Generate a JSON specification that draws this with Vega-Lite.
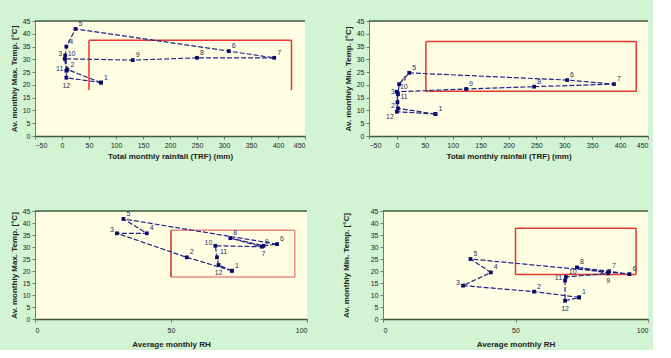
{
  "$schema": "https://vega.github.io/schema/vega-lite/v6.json",
  "background": "#d3f4d3",
  "padding": {"left": 10, "top": 17, "right": 4, "bottom": 2},
  "config": {
    "view": {"fill": "#fffde2", "stroke": null},
    "font": "Liberation Sans",
    "axis": {"labelFontSize": 7, "titleFontSize": 8, "titleFontWeight": "bold", "domainColor": "#777777", "tickColor": "#777777", "labelColor": "#222222", "titleColor": "#222222", "grid": false, "tickSize": 3, "labelPadding": 2, "labelOverlap": false, "labelSeparation": 0},
    "axisX": {"domainColor": "#3d5a3d", "domainWidth": 1.5, "titlePadding": 4},
    "line": {"color": "#23238c", "strokeWidth": 1.2, "strokeDash": [5, 2]},
    "point": {"color": "#0b0b6e", "shape": "square", "filled": true, "size": 14, "opacity": 1},
    "text": {"fontSize": 7, "color": "#2a2a70", "align": "left", "dx": 3, "dy": -5}
  },
  "spacing": 47,
  "vconcat": [
    {
      "spacing": 38,
      "hconcat": [
        {
          "width": 270, "height": 115,
          "encoding": {
            "x": {"field": "rainfall_mm", "type": "quantitative", "title": "Total monthly rainfall (TRF) (mm)", "scale": {"domain": [-50, 450], "nice": false}, "axis": {"values": [-50, 0, 50, 100, 150, 200, 250, 300, 350, 400, 450], "labelOverlap": false}},
            "y": {"field": "max_temp", "type": "quantitative", "title": "Av. monthly Max. Temp. [°C]", "scale": {"domain": [0, 45], "nice": false}, "axis": {"values": [0, 5, 10, 15, 20, 25, 30, 35, 40, 45], "labelOverlap": false}}
          },
          "layer": [
            {"data": {"values": [
              {"rainfall_mm": -50, "rainfall_mm_end": 450, "max_temp": 45, "max_temp_end": 45}]},
             "mark": {"type": "rule", "color": "#3d5a3d", "strokeWidth": 1.5},
             "encoding": {"x2": {"field": "rainfall_mm_end"}, "y2": {"field": "max_temp_end"}}},
            {"data": {"values": [
              {"rainfall_mm": 50, "rainfall_mm_end": 50, "max_temp": 18, "max_temp_end": 37.5},
              {"rainfall_mm": 50, "rainfall_mm_end": 425, "max_temp": 37.5, "max_temp_end": 37.5},
              {"rainfall_mm": 425, "rainfall_mm_end": 425, "max_temp": 18, "max_temp_end": 37.5}]},
             "mark": {"type": "rule", "color": "#e2382f", "strokeWidth": 1.5},
             "encoding": {"x2": {"field": "rainfall_mm_end"}, "y2": {"field": "max_temp_end"}}},
            {"data": {"values": [
              {"seq": 1, "month": "1", "rainfall_mm": 72, "max_temp": 20.9},
              {"seq": 2, "month": "2", "rainfall_mm": 10, "max_temp": 26},
              {"seq": 3, "month": "3", "rainfall_mm": 6, "max_temp": 31.5},
              {"seq": 4, "month": "4", "rainfall_mm": 8, "max_temp": 35},
              {"seq": 5, "month": "5", "rainfall_mm": 25, "max_temp": 41.9},
              {"seq": 6, "month": "6", "rainfall_mm": 309, "max_temp": 33.2},
              {"seq": 7, "month": "7", "rainfall_mm": 393, "max_temp": 30.6},
              {"seq": 8, "month": "8", "rainfall_mm": 250, "max_temp": 30.6},
              {"seq": 9, "month": "9", "rainfall_mm": 131, "max_temp": 29.7},
              {"seq": 10, "month": "10", "rainfall_mm": 5, "max_temp": 30.2},
              {"seq": 11, "month": "11", "rainfall_mm": 8, "max_temp": 25.5},
              {"seq": 12, "month": "12", "rainfall_mm": 8, "max_temp": 22.8},
              {"seq": 13, "month": "", "rainfall_mm": 72, "max_temp": 20.9}]},
             "layer": [
               {"mark": "line", "encoding": {"order": {"field": "seq"}}},
               {"mark": "point"},
               {"transform": [{"filter": {"not": {"field": "seq", "oneOf": [3, 11, 12]}}}], "mark": "text", "encoding": {"text": {"field": "month"}}},
               {"transform": [{"filter": {"field": "seq", "oneOf": [3, 11]}}], "mark": {"type": "text", "align": "right", "dx": -3, "dy": -2}, "encoding": {"text": {"field": "month"}}},
               {"transform": [{"filter": {"field": "seq", "oneOf": [12]}}], "mark": {"type": "text", "align": "center", "dx": 0, "dy": 8}, "encoding": {"text": {"field": "month"}}}
             ]}
          ]
        },
        {
          "width": 279, "height": 115,
          "encoding": {
            "x": {"field": "rainfall_mm", "type": "quantitative", "title": "Total monthly rainfall (TRF) (mm)", "scale": {"domain": [-50, 450], "nice": false}, "axis": {"values": [-50, 0, 50, 100, 150, 200, 250, 300, 350, 400, 450], "labelOverlap": false}},
            "y": {"field": "min_temp", "type": "quantitative", "title": "Av. monthly Min. Temp. [°C]", "scale": {"domain": [0, 45], "nice": false}, "axis": {"values": [0, 5, 10, 15, 20, 25, 30, 35, 40, 45], "labelOverlap": false}}
          },
          "layer": [
            {"data": {"values": [
              {"rainfall_mm": -50, "rainfall_mm_end": 450, "min_temp": 45, "min_temp_end": 45}]},
             "mark": {"type": "rule", "color": "#3d5a3d", "strokeWidth": 1.5},
             "encoding": {"x2": {"field": "rainfall_mm_end"}, "y2": {"field": "min_temp_end"}}},
            {"data": {"values": [
              {"rainfall_mm": 52, "rainfall_mm_end": 52, "min_temp": 17.5, "min_temp_end": 37},
              {"rainfall_mm": 52, "rainfall_mm_end": 429, "min_temp": 37, "min_temp_end": 37},
              {"rainfall_mm": 429, "rainfall_mm_end": 429, "min_temp": 17.5, "min_temp_end": 37},
              {"rainfall_mm": 52, "rainfall_mm_end": 429, "min_temp": 17.5, "min_temp_end": 17.5}]},
             "mark": {"type": "rule", "color": "#e2382f", "strokeWidth": 1.5},
             "encoding": {"x2": {"field": "rainfall_mm_end"}, "y2": {"field": "min_temp_end"}}},
            {"data": {"values": [
              {"seq": 1, "month": "1", "rainfall_mm": 69, "min_temp": 8.6},
              {"seq": 2, "month": "2", "rainfall_mm": 2, "min_temp": 10.8},
              {"seq": 3, "month": "3", "rainfall_mm": 2, "min_temp": 16.4},
              {"seq": 4, "month": "4", "rainfall_mm": 4, "min_temp": 20.3},
              {"seq": 5, "month": "5", "rainfall_mm": 22, "min_temp": 24.7},
              {"seq": 6, "month": "6", "rainfall_mm": 305, "min_temp": 21.9},
              {"seq": 7, "month": "7", "rainfall_mm": 389, "min_temp": 20.3},
              {"seq": 8, "month": "8", "rainfall_mm": 246, "min_temp": 19.3},
              {"seq": 9, "month": "9", "rainfall_mm": 124, "min_temp": 18.4},
              {"seq": 10, "month": "10", "rainfall_mm": 0, "min_temp": 17.3},
              {"seq": 11, "month": "11", "rainfall_mm": 1, "min_temp": 13.2},
              {"seq": 12, "month": "12", "rainfall_mm": 0, "min_temp": 9.5},
              {"seq": 13, "month": "", "rainfall_mm": 69, "min_temp": 8.6}]},
             "layer": [
               {"mark": "line", "encoding": {"order": {"field": "seq"}}},
               {"mark": "point"},
               {"transform": [{"filter": {"not": {"field": "seq", "oneOf": [2, 3, 12]}}}], "mark": "text", "encoding": {"text": {"field": "month"}}},
               {"transform": [{"filter": {"field": "seq", "oneOf": [2, 3]}}], "mark": {"type": "text", "align": "right", "dx": -3, "dy": -2}, "encoding": {"text": {"field": "month"}}},
               {"transform": [{"filter": {"field": "seq", "oneOf": [12]}}], "mark": {"type": "text", "align": "right", "dx": -3, "dy": 5}, "encoding": {"text": {"field": "month"}}}
             ]}
          ]
        }
      ]
    },
    {
      "spacing": 34,
      "hconcat": [
        {
          "width": 272, "height": 108,
          "encoding": {
            "x": {"field": "rh", "type": "quantitative", "title": "Average monthly RH", "scale": {"domain": [0, 100], "nice": false}, "axis": {"values": [0, 50, 100], "labelPadding": 4, "titlePadding": 7, "labelOverlap": false}},
            "y": {"field": "max_temp", "type": "quantitative", "title": "Av. monthly Max. Temp. [°C]", "scale": {"domain": [0, 45], "nice": false}, "axis": {"values": [0, 5, 10, 15, 20, 25, 30, 35, 40, 45], "labelOverlap": false}}
          },
          "layer": [
            {"data": {"values": [
              {"rh": 0, "rh_end": 100, "max_temp": 45, "max_temp_end": 45}]},
             "mark": {"type": "rule", "color": "#3d5a3d", "strokeWidth": 1.5},
             "encoding": {"x2": {"field": "rh_end"}, "y2": {"field": "max_temp_end"}}},
            {"data": {"values": [
              {"rh": 50, "rh_end": 95.5, "max_temp": 37, "max_temp_end": 37},
              {"rh": 95.5, "rh_end": 95.5, "max_temp": 17.5, "max_temp_end": 37},
              {"rh": 50, "rh_end": 95.5, "max_temp": 17.5, "max_temp_end": 17.5}]},
             "mark": {"type": "rule", "color": "#ef8a80", "strokeWidth": 1.5},
             "encoding": {"x2": {"field": "rh_end"}, "y2": {"field": "max_temp_end"}}},
            {"data": {"values": [
              {"rh": 50, "rh_end": 50, "max_temp": 17.5, "max_temp_end": 37}]},
             "mark": {"type": "rule", "color": "#d22a22", "strokeWidth": 1.5},
             "encoding": {"x2": {"field": "rh_end"}, "y2": {"field": "max_temp_end"}}},
            {"data": {"values": [
              {"seq": 1, "month": "1", "rh": 72.4, "max_temp": 20.1},
              {"seq": 2, "month": "2", "rh": 55.8, "max_temp": 25.7},
              {"seq": 3, "month": "3", "rh": 30.1, "max_temp": 35.7},
              {"seq": 4, "month": "4", "rh": 41.1, "max_temp": 35.7},
              {"seq": 5, "month": "5", "rh": 32.5, "max_temp": 41.7},
              {"seq": 6, "month": "6", "rh": 89, "max_temp": 31.2},
              {"seq": 7, "month": "7", "rh": 84, "max_temp": 30.5},
              {"seq": 8, "month": "8", "rh": 71.8, "max_temp": 33.7},
              {"seq": 9, "month": "9", "rh": 83.4, "max_temp": 30.1},
              {"seq": 10, "month": "10", "rh": 66.3, "max_temp": 30.5},
              {"seq": 11, "month": "11", "rh": 66.9, "max_temp": 25.7},
              {"seq": 12, "month": "12", "rh": 67.5, "max_temp": 22.5},
              {"seq": 13, "month": "", "rh": 72.4, "max_temp": 20.1}]},
             "layer": [
               {"mark": "line", "encoding": {"order": {"field": "seq"}}},
               {"mark": "point"},
               {"transform": [{"filter": {"not": {"field": "seq", "oneOf": [3, 10, 12, 7]}}}], "mark": "text", "encoding": {"text": {"field": "month"}}},
               {"transform": [{"filter": {"field": "seq", "oneOf": [3, 10]}}], "mark": {"type": "text", "align": "right", "dx": -3, "dy": -3}, "encoding": {"text": {"field": "month"}}},
               {"transform": [{"filter": {"field": "seq", "oneOf": [12, 7]}}], "mark": {"type": "text", "align": "center", "dx": 0, "dy": 8}, "encoding": {"text": {"field": "month"}}}
             ]}
          ]
        },
        {
          "width": 265, "height": 108,
          "encoding": {
            "x": {"field": "rh", "type": "quantitative", "title": "Average monthly RH", "scale": {"domain": [0, 100], "nice": false}, "axis": {"values": [0, 50, 100], "labelPadding": 4, "titlePadding": 7, "labelOverlap": false}},
            "y": {"field": "min_temp", "type": "quantitative", "title": "Av. monthly Min. Temp. [°C]", "scale": {"domain": [0, 45], "nice": false}, "axis": {"values": [0, 5, 10, 15, 20, 25, 30, 35, 40, 45], "titlePadding": 20, "labelOverlap": false}}
          },
          "layer": [
            {"data": {"values": [
              {"rh": 0, "rh_end": 100, "min_temp": 45, "min_temp_end": 45}]},
             "mark": {"type": "rule", "color": "#3d5a3d", "strokeWidth": 1.5},
             "encoding": {"x2": {"field": "rh_end"}, "y2": {"field": "min_temp_end"}}},
            {"data": {"values": [
              {"rh": 50, "rh_end": 50, "min_temp": 18.5, "min_temp_end": 37.8},
              {"rh": 50, "rh_end": 95.5, "min_temp": 37.8, "min_temp_end": 37.8},
              {"rh": 95.5, "rh_end": 95.5, "min_temp": 18.5, "min_temp_end": 37.8},
              {"rh": 50, "rh_end": 95.5, "min_temp": 18.5, "min_temp_end": 18.5}]},
             "mark": {"type": "rule", "color": "#e2382f", "strokeWidth": 1.5},
             "encoding": {"x2": {"field": "rh_end"}, "y2": {"field": "min_temp_end"}}},
            {"data": {"values": [
              {"seq": 1, "month": "1", "rh": 74, "min_temp": 9},
              {"seq": 2, "month": "2", "rh": 57, "min_temp": 11.4},
              {"seq": 3, "month": "3", "rh": 30.2, "min_temp": 13.9},
              {"seq": 4, "month": "4", "rh": 40.7, "min_temp": 19.4},
              {"seq": 5, "month": "5", "rh": 33, "min_temp": 25},
              {"seq": 6, "month": "6", "rh": 93, "min_temp": 18.7},
              {"seq": 7, "month": "7", "rh": 85.3, "min_temp": 19.9},
              {"seq": 8, "month": "8", "rh": 73.2, "min_temp": 21.5},
              {"seq": 9, "month": "9", "rh": 85, "min_temp": 19},
              {"seq": 10, "month": "10", "rh": 69, "min_temp": 17.5},
              {"seq": 11, "month": "11", "rh": 68.7, "min_temp": 16},
              {"seq": 12, "month": "12", "rh": 68.7, "min_temp": 7.6},
              {"seq": 13, "month": "", "rh": 74, "min_temp": 9}]},
             "layer": [
               {"mark": "line", "encoding": {"order": {"field": "seq"}}},
               {"mark": "point"},
               {"transform": [{"filter": {"not": {"field": "seq", "oneOf": [3, 11, 12, 9]}}}], "mark": "text", "encoding": {"text": {"field": "month"}}},
               {"transform": [{"filter": {"field": "seq", "oneOf": [3, 11]}}], "mark": {"type": "text", "align": "right", "dx": -3, "dy": -3}, "encoding": {"text": {"field": "month"}}},
               {"transform": [{"filter": {"field": "seq", "oneOf": [12, 9]}}], "mark": {"type": "text", "align": "center", "dx": 0, "dy": 8}, "encoding": {"text": {"field": "month"}}}
             ]}
          ]
        }
      ]
    }
  ]
}
